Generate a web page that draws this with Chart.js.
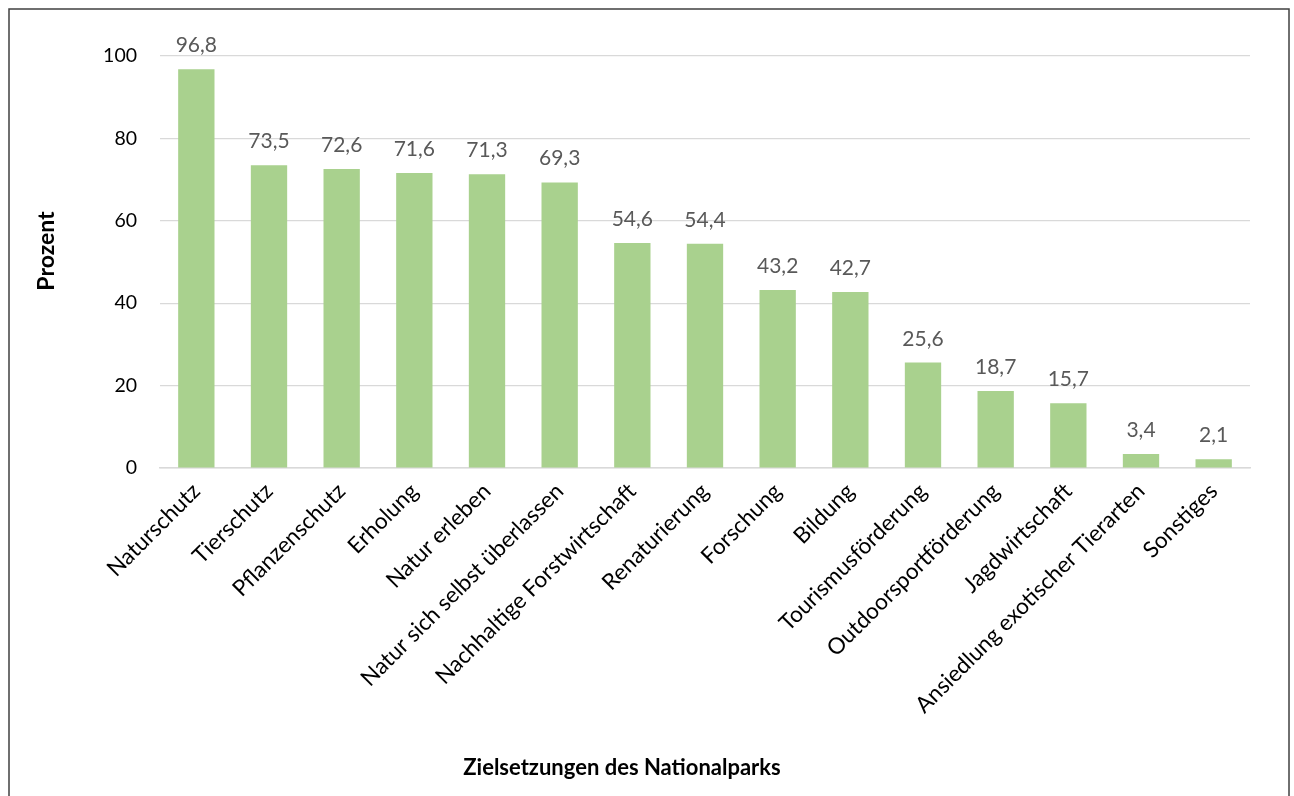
<!DOCTYPE html>
<html>
<head>
<meta charset="utf-8">
<script src="https://cdn.jsdelivr.net/npm/chart.js@4/dist/chart.umd.min.js"></script>
<style>
  html, body { margin: 0; padding: 0; background: #ffffff; }
  #wrap { position: absolute; left: 0; top: 0; width: 1294px; height: 796px; }
</style>
</head>
<body>
<div id="wrap"><canvas id="chart" width="1294" height="796"></canvas></div>
<script>
// Zielsetzungen des Nationalparks (Angaben in Prozent)
const categories = [
  "Naturschutz", "Tierschutz", "Pflanzenschutz", "Erholung", "Natur erleben",
  "Natur sich selbst überlassen", "Nachhaltige Forstwirtschaft", "Renaturierung",
  "Forschung", "Bildung", "Tourismusförderung", "Outdoorsportförderung",
  "Jagdwirtschaft", "Ansiedlung exotischer Tierarten", "Sonstiges"
];
const values = [96.8, 73.5, 72.6, 71.6, 71.3, 69.3, 54.6, 54.4, 43.2, 42.7, 25.6, 18.7, 15.7, 3.4, 2.1];
const yTicks = [0, 20, 40, 60, 80, 100];

const FONT = "Lato, 'Open Sans', sans-serif";
const fmt = v => v.toFixed(1).replace('.', ',');

// Value labels above each bar, frame and axis titles
const decorations = {
  id: 'decorations',
  afterDatasetsDraw(chart) {
    const ctx = chart.ctx;
    const meta = chart.getDatasetMeta(0);
    ctx.save();
    ctx.font = "21px " + FONT;
    ctx.fillStyle = "#595959";
    ctx.textAlign = "center";
    ctx.textBaseline = "alphabetic";
    meta.data.forEach((bar, i) => {
      ctx.fillText(fmt(values[i]), bar.x, bar.y - 17);
    });
    ctx.restore();
  },
  afterDraw(chart) {
    const ctx = chart.ctx;
    ctx.save();
    // outer frame
    ctx.strokeStyle = "#404040";
    ctx.lineWidth = 1.5;
    ctx.strokeRect(9, 9, 1280, 800);
    // axis titles
    ctx.fillStyle = "#000000";
    ctx.textAlign = "center";
    ctx.textBaseline = "middle";
    ctx.font = "bold 22px " + FONT;
    ctx.fillText("Zielsetzungen des Nationalparks", 622, 768);
    ctx.translate(47, 251);
    ctx.rotate(-Math.PI / 2);
    ctx.font = "bold 23px " + FONT;
    ctx.fillText("Prozent", 0, 0);
    ctx.restore();
  }
};

new Chart(document.getElementById('chart'), {
  type: 'bar',
  data: {
    labels: categories,
    datasets: [{
      data: values,
      backgroundColor: "#a9d18e",
      borderWidth: 0,
      categoryPercentage: 1.0,
      barPercentage: 0.5
    }]
  },
  options: {
    responsive: false,
    animation: false,
    layout: { padding: { left: 0, right: 44, top: 56, bottom: 0 } },
    plugins: {
      legend: { display: false },
      tooltip: { enabled: false }
    },
    scales: {
      x: {
        grid: { display: false, drawTicks: false },
        border: { display: true, color: "#d9d9d9", width: 1.5 },
        ticks: {
          color: "#000000",
          font: { family: FONT, size: 22.5 },
          minRotation: 45,
          maxRotation: 45,
          padding: 10,
          autoSkip: false
        },
        afterFit(scale) { scale.height = 328; }
      },
      y: {
        min: 0,
        max: 100,
        afterBuildTicks(scale) { scale.ticks = yTicks.map(v => ({ value: v })); },
        grid: { color: "#d9d9d9", lineWidth: 1.2, drawTicks: false },
        border: { display: false },
        ticks: {
          color: "#000000",
          font: { family: FONT, size: 19.5 },
          padding: 23
        },
        afterFit(scale) { scale.width = 160; }
      }
    }
  },
  plugins: [decorations]
});
</script>
</body>
</html>
